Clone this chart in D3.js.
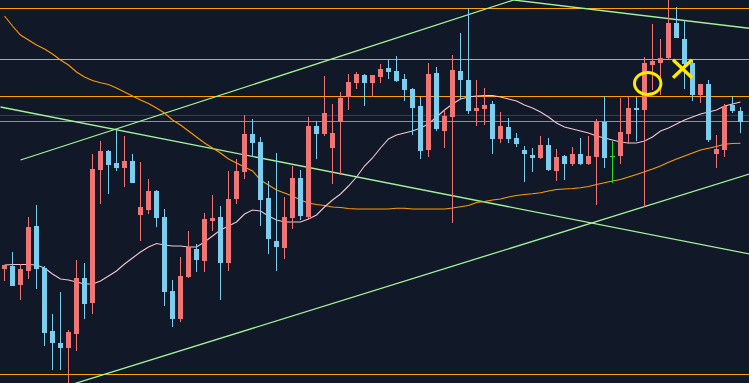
<!DOCTYPE html>
<html>
<head>
<meta charset="utf-8">
<script src="https://cdn.jsdelivr.net/npm/d3@7"></script>
<style>
  html, body { margin: 0; padding: 0; background: #111827; overflow: hidden; }
  svg { display: block; }
</style>
</head>
<body>
<svg id="chart"></svg>
<script>
//data (one bar per index, prices)
var opens = [149.313,149.34,149.153,149.293,149.74,149.32,148.69,148.57,148.52,148.663,
  149.22,148.973,150.303,150.49,150.37,150.323,150.39,149.853,149.903,150.09,
  149.83,149.09,148.813,149.23,149.51,149.39,149.79,149.83,149.37,150.01,
  150.28,150.66,150.58,150.02,149.59,149.52,149.82,150.22,149.83,150.74,
  150.66,150.52,150.783,151.033,151.17,151.25,151.17,151.23,151.32,151.29,
  151.21,151.11,150.94,150.50,151.27,150.69,150.83,151.29,151.20,150.89,
  150.91,150.96,150.61,150.73,150.62,150.50,150.45,150.42,150.55,150.29,
  150.44,150.36,150.46,150.36,150.43,150.783,150.44,150.44,150.66,150.92,
  150.90,151.35,151.37,151.42,151.77,151.61,151.37,151.05,151.16,150.46,
  150.50,150.95,150.89];
var highs = [149.347,149.48,149.36,149.83,149.95,149.34,148.86,149.08,148.70,149.40,
  149.37,150.463,150.59,150.50,150.70,150.64,150.46,150.38,150.21,150.095,
  149.91,149.20,149.43,149.69,149.56,149.87,150.05,149.94,150.29,150.41,
  150.85,150.81,150.63,150.19,150.47,150.03,150.34,150.30,150.83,150.79,
  151.24,150.96,151.08,151.26,151.28,151.26,151.25,151.36,151.40,151.44,
  151.26,151.12,151.03,151.37,151.33,150.90,151.45,151.67,151.92,151.20,
  151.12,150.99,150.88,150.82,150.67,150.54,150.52,150.64,150.62,150.51,
  150.45,150.53,150.62,150.64,150.81,151.037,150.59,151.02,151.037,151.03,
  151.43,151.76,151.61,152.01,151.93,151.80,151.40,151.16,151.20,150.65,
  150.96,151.04,150.93];
var lows = [149.19,149.14,149.00,149.213,149.113,148.543,148.303,148.303,148.14,148.493,
  148.813,148.863,149.963,150.063,150.293,150.133,150.17,149.593,149.863,149.733,
  148.943,148.733,148.783,149.22,149.283,149.283,149.69,149.00,149.293,149.96,
  150.21,150.433,149.74,149.46,149.293,149.41,149.713,149.80,149.80,150.413,
  150.64,150.16,150.253,150.90,151.11,150.94,151.035,151.17,151.21,151.18,
  150.99,150.65,150.41,150.43,150.69,150.52,149.77,151.01,150.86,150.74,
  150.75,150.46,150.57,150.57,150.53,150.18,150.28,150.41,150.29,150.19,
  150.20,150.34,150.35,150.355,149.95,150.32,150.173,150.36,150.56,150.59,
  149.933,151.10,151.05,151.41,151.615,151.11,150.99,150.97,150.58,150.32,
  150.43,150.87,150.67];
var closes = [149.347,149.143,149.31,149.73,149.313,148.673,148.57,148.52,148.68,149.22,
  148.963,150.31,150.49,150.353,150.323,150.39,150.173,149.93,150.09,149.823,
  149.083,148.813,149.243,149.53,149.40,149.81,149.82,149.37,150.01,150.29,
  150.66,150.57,150.00,149.61,149.53,149.83,150.22,149.84,150.74,150.66,
  150.87,150.67,151.02,151.18,151.26,151.17,151.25,151.31,151.28,151.19,
  151.10,150.92,150.49,151.26,150.71,150.84,151.30,151.20,150.89,150.92,
  150.95,150.61,150.74,150.61,150.56,150.46,150.42,150.55,150.30,150.43,
  150.36,150.46,150.36,150.44,150.783,150.42,150.44,150.68,150.92,150.90,
  151.37,151.39,151.42,151.77,151.62,151.36,151.05,151.16,150.60,150.51,
  150.94,150.89,150.78];

//moving averages
var maShort = [149.35,149.355,149.355,149.355,149.35,149.32,149.26,149.21,149.20,149.18,
  149.16,149.16,149.19,149.24,149.29,149.36,149.42,149.48,149.53,149.565,
  149.55,149.54,149.54,149.53,149.53,149.58,149.64,149.70,149.74,149.78,
  149.86,149.90,149.89,149.84,149.80,149.78,149.78,149.78,149.81,149.85,
  149.93,150.00,150.06,150.14,150.23,150.34,150.42,150.52,150.61,150.65,
  150.67,150.69,150.72,150.76,150.83,150.90,150.96,151.01,151.03,151.04,
  151.045,151.045,151.03,151.01,150.99,150.95,150.92,150.88,150.83,150.77,
  150.73,150.71,150.69,150.67,150.64,150.62,150.60,150.58,150.57,150.57,
  150.59,150.63,150.69,150.72,150.76,150.80,150.83,150.86,150.88,150.90,
  150.94,150.96,150.98];
var maLong = [151.84,151.74,151.65,151.60,151.55,151.51,151.46,151.40,151.35,151.28,
  151.23,151.195,151.173,151.155,151.12,151.08,151.04,151.00,150.965,150.92,
  150.87,150.80,150.75,150.69,150.63,150.57,150.52,150.47,150.41,150.37,
  150.33,150.29,150.20,150.15,150.10,150.07,150.04,150.00,149.97,149.955,
  149.945,149.93,149.925,149.915,149.91,149.91,149.91,149.91,149.91,149.917,
  149.917,149.91,149.91,149.91,149.91,149.91,149.92,149.933,149.945,149.975,
  149.985,150.00,150.01,150.03,150.045,150.055,150.063,150.073,150.09,150.105,
  150.11,150.115,150.123,150.135,150.155,150.173,150.19,150.205,150.23,150.255,
  150.283,150.31,150.34,150.377,150.41,150.44,150.47,150.50,150.517,150.535,
  150.557,150.565,150.567];

//horizontal levels
var orangeLevels = [151.92, 151.407, 151.037, 148.257];
var redLevels = [150.847];
var grayLevels = [150.787];

//trend lines: [index, price] pairs
var trendLines = [
  [[2, 150.40], [92, 152.736]],
  [[-0.5, 150.93], [93.1, 149.46]],
  [[8, 148.145], [93.1, 150.26]],
  [[63.7, 152.00], [93.1, 151.717]]
];

//marks drawn by hand on the chart
var circleMark = [80.4, 151.165];
var crossMark = [84.75, 151.313];

var width = 749, height = 383;

var svg = d3.select("#chart")
  .attr("width", width)
  .attr("height", height);

svg.append("rect")
  .attr("width", width)
  .attr("height", height)
  .attr("fill", "#111827");

var xScale = d3.scaleLinear()
  .domain([0, 92])
  .range([4.5, 740.5]);

var yScale = d3.scaleLinear()
  .domain([148.17, 152])
  .range([height, 0]);

function row(p) { return Math.floor(yScale(p)) + 0.5; }

///////////////////////LEVELS
function drawLevels(list, color) {
  svg.append("g").selectAll("line")
    .data(list)
    .enter()
    .append("line")
    .attr("x1", 0)
    .attr("x2", width)
    .attr("y1", d => row(d))
    .attr("y2", d => row(d))
    .attr("stroke", color)
    .attr("stroke-width", 1)
    .attr("shape-rendering", "crispEdges");
}
drawLevels(orangeLevels, "#ffa200");
drawLevels(redLevels, "#c8000c");
drawLevels(grayLevels, "#8b929c");

///////////////////////TREND LINES
var tline = d3.line()
  .x(d => xScale(d[0]))
  .y(d => yScale(d[1]));

svg.append("g").selectAll("path")
  .data(trendLines)
  .enter()
  .append("path")
  .attr("d", tline)
  .attr("fill", "none")
  .attr("stroke", "#a3f29b")
  .attr("stroke-width", 1.3);

///////////////////////MOVING AVERAGES
var maLine = d3.line()
  .x((d, i) => xScale(i))
  .y(d => yScale(d));

svg.append("path")
  .datum(maLong)
  .attr("d", maLine)
  .attr("fill", "none")
  .attr("stroke", "#ff9d00")
  .attr("stroke-width", 1.1);

svg.append("path")
  .datum(maShort)
  .attr("d", maLine)
  .attr("fill", "none")
  .attr("stroke", "#f7c3d3")
  .attr("stroke-width", 1.1);

///////////////////////CANDLES
var bars = d3.range(opens.length).map(i => ({
  i: i, o: opens[i], h: highs[i], l: lows[i], c: closes[i]
}));

function barColor(d) {
  if (d.c > d.o) return "#f07575";
  if (d.c < d.o) return "#7dcdef";
  return "#22dd22";
}

var candle = svg.append("g")
  .attr("shape-rendering", "crispEdges")
  .selectAll("g")
  .data(bars)
  .enter()
  .append("g");

candle.append("line")
  .attr("x1", d => Math.floor(xScale(d.i)) + 0.5)
  .attr("x2", d => Math.floor(xScale(d.i)) + 0.5)
  .attr("y1", d => Math.round(yScale(d.h)))
  .attr("y2", d => Math.round(yScale(d.l)))
  .attr("stroke", barColor)
  .attr("stroke-width", 1);

candle.append("rect")
  .attr("x", d => Math.floor(xScale(d.i)) - 2)
  .attr("width", 5)
  .attr("y", d => Math.round(yScale(Math.max(d.o, d.c))))
  .attr("height", d => Math.max(1, Math.round(yScale(Math.min(d.o, d.c))) - Math.round(yScale(Math.max(d.o, d.c)))))
  .attr("fill", barColor);

///////////////////////MARKS
svg.append("ellipse")
  .attr("cx", xScale(circleMark[0]))
  .attr("cy", yScale(circleMark[1]))
  .attr("rx", 13.2)
  .attr("ry", 11)
  .attr("fill", "none")
  .attr("stroke", "#ffea00")
  .attr("stroke-width", 3);

var cx = xScale(crossMark[0]), cy = yScale(crossMark[1]);
svg.append("path")
  .attr("d", "M" + (cx - 9.5) + "," + (cy - 9) + "L" + (cx + 9.5) + "," + (cy + 9) +
             "M" + (cx + 9.5) + "," + (cy - 9) + "L" + (cx - 9.5) + "," + (cy + 9))
  .attr("fill", "none")
  .attr("stroke", "#ffea00")
  .attr("stroke-width", 3.3);
</script>
</body>
</html>
